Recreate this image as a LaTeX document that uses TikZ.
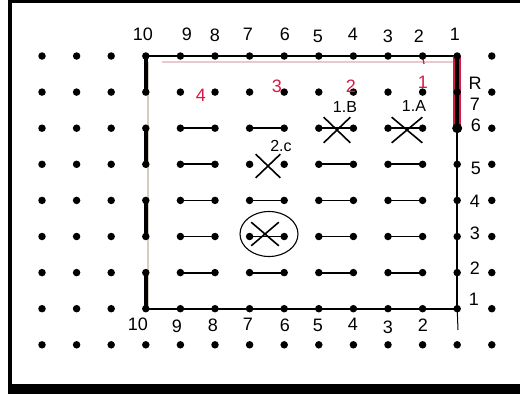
\documentclass[tikz,border=0pt]{standalone}
\usepackage{fontspec}
\setmainfont{Liberation Sans}
\usetikzlibrary{shapes.misc,shapes.geometric}
\definecolor{penred}{RGB}{215,25,70}
\definecolor{pencil}{RGB}{215,205,190}
\definecolor{pinkline}{RGB}{235,200,205}
\begin{document}
\begin{tikzpicture}[x=1pt,y=-1pt,
  dot/.style={circle,fill=black,inner sep=0pt,minimum size=7.5pt},
  pairline/.style={line width=1.8pt,line cap=round},
  edgeline/.style={line width=1.8pt,line cap=round},
  thickedge/.style={line width=3.5pt,line cap=round},
  num/.style={font=\fontsize{18}{18}\selectfont,inner sep=0pt},
  rednum/.style={num,text=penred},
  tag/.style={font=\fontsize{16}{16}\selectfont,inner sep=0pt},
  xmark/.style={draw,cross out,line width=1.6pt,inner sep=0pt},
  ring/.style={draw,ellipse,line width=1.1pt,inner sep=0pt,minimum width=58pt,minimum height=45pt}]
\useasboundingbox (0,0) rectangle (520,394);
% frame
\fill (8,0) rectangle (520,3);
\fill (8,0) rectangle (12,385);
\fill (8,384) rectangle (520,394);
% grid coordinates
\foreach \i in {1,...,14}
  \foreach \j in {1,...,9}
    \coordinate (p-\i-\j) at ({42+34.6*(\i-1)},{56+36.1*(\j-1)});
% faint pencil guide lines
\coordinate (ga) at (148,62);
\coordinate (gb) at (148,306);
\coordinate (gc) at (162,62);
\coordinate (gd) at (455,62);
\draw[pencil,line width=1.5pt] (ga) -- (gb);
\draw[pinkline,line width=1.2pt] (gc) -- (gd);
% short connecting strokes between dot pairs
\foreach \j in {3,...,7}
  \foreach \i/\k in {5/6,7/8,9/10,11/12}{
    \ifnum\j=4 \ifnum\i=7 \else
      \draw[pairline] (p-\i-\j) -- (p-\k-\j);
    \fi\else
      \draw[pairline] (p-\i-\j) -- (p-\k-\j);
    \fi
  }
% rectangle
\draw[edgeline] (p-4-1) -- (p-13-1);
\draw[line width=2.2pt,line cap=round] (p-4-8) -- (p-13-8);
\draw[thickedge] (p-4-1) -- (p-4-2);
\draw[thickedge] (p-4-3) -- (p-4-4);
\draw[thickedge] (p-4-5) -- (p-4-6);
\draw[thickedge] (p-4-7) -- (p-4-8);
\coordinate (tail) at (458,330);
\draw[edgeline] (p-13-3) -- (p-13-8);
\draw[line width=1pt] (p-13-8) -- (tail);
\draw[penred,line width=7.5pt] (p-13-1) -- (p-13-3);
\draw[black,line width=3.5pt] (p-13-1) -- (p-13-3);
\coordinate (rt) at (424,64);
\draw[penred,line width=1.3pt] (p-12-1) -- (rt);
% dots
\foreach \i in {1,...,14}
  \foreach \j in {1,...,9}
    \node[dot] (d-\i-\j) at (p-\i-\j) {};
\node[circle,fill=black,inner sep=0pt,minimum size=10pt] (blob) at (p-13-3) {};
% crosses
\node[xmark,minimum width=25pt,minimum height=24pt] (xb) at (337,130) {};
\node[xmark,minimum width=29pt,minimum height=24pt] (xa) at (407,130) {};
\node[xmark,minimum width=23pt,minimum height=22pt] (xc) at (268,166) {};
\node[xmark,minimum width=26pt,minimum height=22pt] (xo) at (265,234) {};
\node[ring] (circ) at (269,234) {};
% labels of crosses
\node[tag] (lb) at (345,107) {1.B};
\node[tag] (la) at (414,106) {1.A};
\node[tag] (lc) at (281,146) {2.c};
% red numbers
\node[rednum] (r4) at (201,95) {4};
\node[rednum] (r3) at (277,86) {3};
\node[rednum] (r2) at (351,86) {2};
\node[rednum] (r1) at (423,82) {1};
% top numbers
\node[num] (t10) at (143,34) {10};
\node[num] (t9) at (187,34) {9};
\node[num] (t8) at (215,35) {8};
\node[num] (t7) at (248,34) {7};
\node[num] (t6) at (285,34) {6};
\node[num] (t5) at (318,36) {5};
\node[num] (t4) at (353,34) {4};
\node[num] (t3) at (388,36) {3};
\node[num] (t2) at (419,36) {2};
\node[num] (t1) at (455,34) {1};
% bottom numbers
\node[num] (b10) at (138,324) {10};
\node[num] (b9) at (177,326) {9};
\node[num] (b8) at (213,325) {8};
\node[num] (b7) at (248,324) {7};
\node[num] (b6) at (285,325) {6};
\node[num] (b5) at (318,325) {5};
\node[num] (b4) at (353,324) {4};
\node[num] (b3) at (388,327) {3};
\node[num] (b2) at (423,325) {2};
% right numbers
\node[num] (sR) at (475,83) {R};
\node[num] (s7) at (475,104) {7};
\node[num] (s6) at (476,125) {6};
\node[num] (s5) at (476,168) {5};
\node[num] (s4) at (475,201) {4};
\node[num] (s3) at (475,233) {3};
\node[num] (s2) at (475,268) {2};
\node[num] (s1) at (474,299) {1};
\end{tikzpicture}
\end{document}
